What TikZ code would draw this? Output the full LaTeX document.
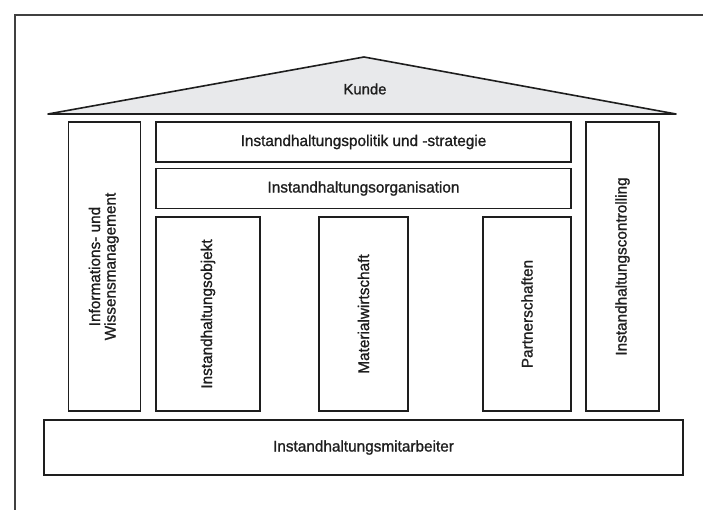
\documentclass[tikz,border=0pt]{standalone}
\usepackage{fontspec}
\setmainfont{Liberation Sans}[FakeStretch=0.99, FakeBold=1.1]
\usetikzlibrary{positioning}
\definecolor{edge}{HTML}{1E1E1E}
\definecolor{roofgray}{HTML}{E8E9EB}
\tikzset{
  panel/.style={draw=edge, line width=1.6pt, fill=white, inner sep=0pt, align=center,
    font=\fontsize{15.5}{16.5}\selectfont, text=edge},
  frameline/.style={draw=edge!85, line width=1.4pt},
}
\begin{document}
\begin{tikzpicture}[x=1pt,y=-1pt]
\useasboundingbox (0,0) rectangle (703,510);
\fill[white] (0,0) rectangle (703,510);
% outer frame (runs past the page on the right and bottom)
\draw[frameline] (15,530) -- (15,15) -- (720,15);

% roof
\coordinate (rl) at (48,114);
\coordinate (rt) at (364,57);
\coordinate (rr) at (676,114);
\filldraw[fill=roofgray, draw=edge, line width=1.6pt, line join=round] (rl) -- (rt) -- (rr) -- cycle;
\node[font=\fontsize{15}{16}\selectfont, text=edge] (kunde) at (365,89) {Kunde};

% side columns
\node[panel, minimum width=72, minimum height=289] (wissen) at (104.5,266.5)
  {\rotatebox{90}{\begin{tabular}{@{}c@{}}Informations- und\\[-1pt]Wissensmanagement\end{tabular}}};
\node[panel, minimum width=73, minimum height=289] (controlling) at (622.5,266.5)
  {\rotatebox{90}{Instandhaltungscontrolling}};

% horizontal bars
\node[panel, minimum width=415, minimum height=40] (politik) at (363.5,142)
  {Instandhaltungspolitik und -strategie};
\node[panel, minimum width=415, minimum height=40] (organisation) at (363.5,188.5)
  {Instandhaltungsorganisation};

% inner columns
\node[panel, minimum width=104, minimum height=194] (objekt) at (208,314)
  {\rotatebox{90}{Instandhaltungsobjekt}};
\node[panel, minimum width=89, minimum height=194] (material) at (363.5,314)
  {\rotatebox{90}{Materialwirtschaft}};
\node[panel, minimum width=88, minimum height=194] (partner) at (527,314)
  {\rotatebox{90}{Partnerschaften}};

% foundation
\node[panel, minimum width=639, minimum height=55] (mitarbeiter) at (363.5,447.5)
  {Instandhaltungsmitarbeiter};
\end{tikzpicture}
\end{document}
